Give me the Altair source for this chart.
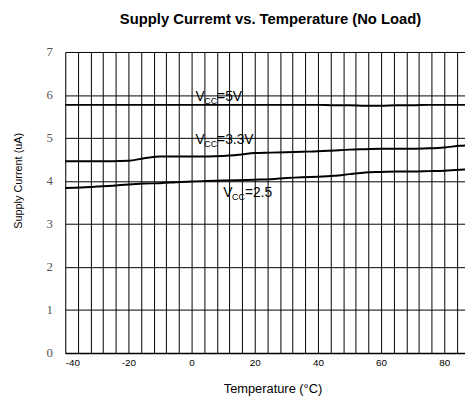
import altair as alt
import pandas as pd

title_text = "Supply Curremt vs. Temperature (No Load)"

temps = [-40, -35, -30, -25, -20, -15, -10, -5, 0, 5, 10, 15, 20, 25, 30, 35,
         40, 45, 50, 55, 60, 65, 70, 75, 80, 85, 87]
v5 = [5.77, 5.77, 5.77, 5.77, 5.77, 5.77, 5.77, 5.77, 5.77, 5.77, 5.77, 5.77,
      5.77, 5.77, 5.77, 5.77, 5.77, 5.76, 5.76, 5.75, 5.75, 5.76, 5.76, 5.77,
      5.77, 5.77, 5.77]
v33 = [4.46, 4.46, 4.46, 4.46, 4.47, 4.53, 4.57, 4.57, 4.57, 4.57, 4.58, 4.61,
       4.65, 4.66, 4.67, 4.68, 4.69, 4.71, 4.73, 4.74, 4.75, 4.75, 4.75, 4.76,
       4.78, 4.82, 4.83]
v25 = [3.84, 3.85, 3.87, 3.89, 3.92, 3.94, 3.95, 3.97, 3.99, 4.00, 4.01, 4.02,
       4.03, 4.04, 4.07, 4.09, 4.10, 4.12, 4.16, 4.20, 4.21, 4.22, 4.22, 4.23,
       4.24, 4.26, 4.27]

series_names = ["5V", "3.3V", "2.5V"]

label_x = [1.2, 1.2, 10.0]
label_y = [5.85, 4.87, 3.63]
label_rest = ["=5V", "=3.3V", "=2.5"]

x_grid = list(range(-40, 85, 4))
y_ticks = [0, 1, 2, 3, 4, 5, 6, 7]

rows = []
for name, vals in zip(series_names, [v5, v33, v25]):
    for t, v in zip(temps, vals):
        rows.append({"series": name, "temp": t, "current": v})
df = pd.DataFrame(rows)

lab = pd.DataFrame({"temp": label_x, "current": label_y, "rest": label_rest})
ttl = pd.DataFrame({"t": [title_text]})

xscale = alt.Scale(domain=[-40, 86.56], nice=False, zero=False)
yscale = alt.Scale(domain=[0, 7], nice=False)

x_axis = alt.Axis(
    values=x_grid, tickCount=100,
    labelExpr="datum.value % 20 == 0 ? '' + datum.value : ''",
    ticks=False, tickSize=0, labelPadding=5,
    labelFont="Liberation Sans", labelFontSize=10, labelColor="#000",
    grid=True, gridColor="#000", gridOpacity=1, gridWidth=1,
    domain=True, domainColor="#000", domainWidth=1.5,
    title="Temperature (°C)", titleFont="Liberation Sans", titleFontSize=13,
    titleFontWeight="normal", titleColor="#000",
    titleX=210, titleY=40, titleBaseline="alphabetic", titleAlign="center",
    labelOverlap=False,
)
y_axis = alt.Axis(
    values=y_ticks, tickCount=100,
    labelExpr="'' + datum.value",
    ticks=False, tickSize=0, labelPadding=13,
    labelFont="Liberation Serif", labelFontSize=13, labelColor="#555",
    grid=True, gridColor="#000", gridOpacity=1, gridWidth=1,
    domain=False, labelOverlap=False,
    title="Supply Current (uA)", titleFont="Liberation Sans", titleFontSize=11,
    titleFontWeight="normal", titleColor="#000",
    titleX=-44, titleY=130, titleAngle=270, titleBaseline="alphabetic",
    titleAlign="center",
)

lines = alt.Chart(df).mark_line(
    color="#000", strokeWidth=2, interpolate="monotone", clip=True
).encode(
    x=alt.X("temp:Q", scale=xscale, axis=x_axis),
    y=alt.Y("current:Q", scale=yscale, axis=y_axis),
    detail="series:N",
)

base_lab = alt.Chart(lab).encode(
    x=alt.X("temp:Q", scale=xscale, axis=x_axis),
    y=alt.Y("current:Q", scale=yscale, axis=y_axis),
)
t_v = base_lab.mark_text(align="left", baseline="alphabetic", font="Liberation Sans",
                         fontSize=14, color="#000").encode(text=alt.value("V"))
t_cc = base_lab.mark_text(align="left", baseline="alphabetic", font="Liberation Sans",
                          fontSize=9, color="#000", dx=9, dy=3).encode(text=alt.value("CC"))
t_rest = base_lab.mark_text(align="left", baseline="alphabetic", font="Liberation Sans",
                            fontSize=14, color="#000", dx=22).encode(text="rest:N")

t_title = alt.Chart(ttl).mark_text(
    align="center", baseline="alphabetic", font="Liberation Sans", fontSize=15,
    fontWeight="bold", color="#000"
).encode(text="t:N", x=alt.value(208), y=alt.value(-28))

chart = alt.layer(lines, t_v, t_cc, t_rest, t_title).properties(
    width=405, height=305,
    autosize=alt.AutoSizeParams(type="none"),
    padding={"left": 58, "top": 42, "right": 0, "bottom": 44},
).configure_view(stroke=None).configure(background="white")

chart.save("out.html", embed_options={"renderer": "svg", "actions": False})
